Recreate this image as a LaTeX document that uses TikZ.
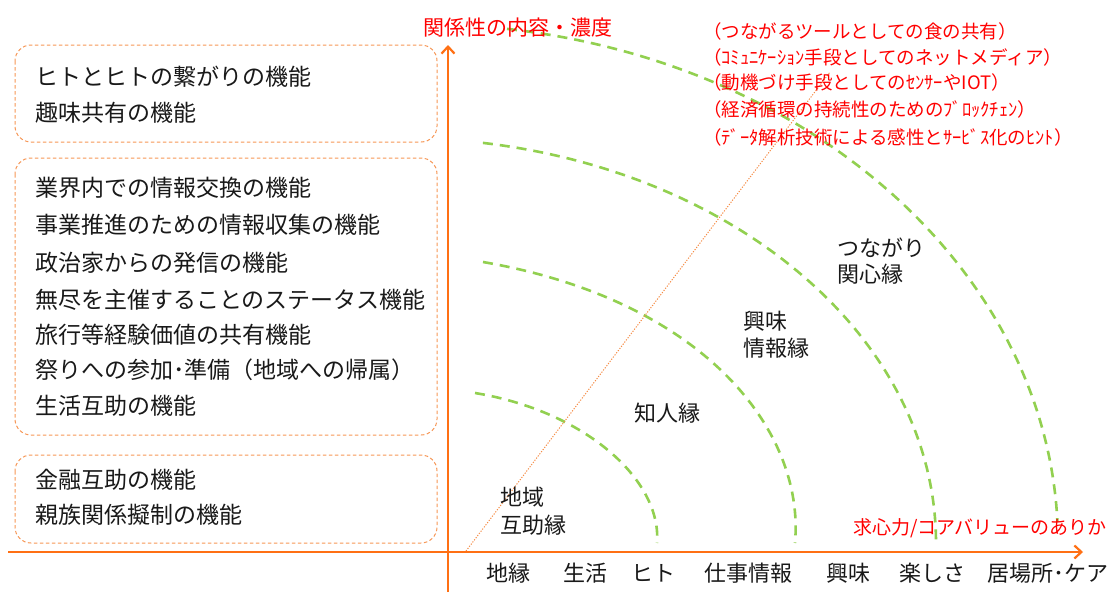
\documentclass[tikz,border=0pt]{standalone}
\usepackage{fontspec}
\setmainfont{Noto Sans CJK JP}
\usetikzlibrary{arrows.meta}
\definecolor{axisor}{RGB}{255,112,20}
\definecolor{boxor}{RGB}{246,150,85}
\definecolor{dotor}{RGB}{245,140,70}
\definecolor{arcgreen}{RGB}{146,208,80}
\definecolor{redtxt}{RGB}{255,0,0}
\definecolor{blktxt}{RGB}{25,25,25}
\begin{document}
\begin{tikzpicture}[x=1pt,y=-1pt,
  boxst/.style={draw=boxor, line width=1pt, dash pattern=on 3.5pt off 2.5pt, rounded corners=16pt},
  arcst/.style={draw=arcgreen, line width=2.6pt, dash pattern=on 10pt off 7pt},
  axisst/.style={draw=axisor, line width=2.2pt, -{Straight Barb[length=7pt,width=13pt]}},
  boxtxt/.style={anchor=west, inner sep=0pt, text=blktxt, font=\fontsize{23}{28}\selectfont, text height=20pt, text depth=2.8pt},
  redline/.style={anchor=west, inner sep=0pt, text=redtxt, font=\fontsize{18.5}{22}\selectfont, text height=16.3pt, text depth=2.2pt},
  lbl/.style={inner sep=0pt, text=blktxt, font=\fontsize{22}{27}\selectfont, align=left},
  axlbl/.style={inner sep=0pt, text=blktxt, font=\fontsize{22}{27}\selectfont, text height=19.4pt, text depth=2.6pt}
]
\useasboundingbox (0,0) rectangle (1114,592);

% boxes
\draw[boxst] (15,45) rectangle (437,142);
\draw[boxst] (15,158) rectangle (437,435);
\draw[boxst] (15,455) rectangle (437,543);

\node[boxtxt] (b1a) at (35,77) {ヒトとヒトの繋がりの機能};
\node[boxtxt] (b1b) at (35,113) {趣味共有の機能};

\node[boxtxt] (b2a) at (35,188) {業界内での情報交換の機能};
\node[boxtxt] (b2b) at (35,225) {事業推進のための情報収集の機能};
\node[boxtxt] (b2c) at (35,263) {政治家からの発信の機能};
\node[boxtxt] (b2d) at (35,300) {無尽を主催することのステータス機能};
\node[boxtxt] (b2e) at (35,335) {旅行等経験価値の共有機能};
\node[boxtxt] (b2f) at (35,370) {祭りへの参加･準備（地域への帰属）};
\node[boxtxt] (b2g) at (35,406) {生活互助の機能};

\node[boxtxt] (b3a) at (35,480) {金融互助の機能};
\node[boxtxt] (b3b) at (35,515) {親族関係擬制の機能};

% arcs
\draw[arcst] (475,393) .. controls (585,411) and (662,480) .. (657,543);
\draw[arcst] (483,262) .. controls (703,300) and (805,430) .. (795,543);
\draw[arcst] (400,543) ++(-81.1:536 and 405) arc[start angle=-81.1, end angle=0, x radius=536, y radius=405];
\draw[arcst] (420,543) ++(-82.16:638 and 519) arc[start angle=-82.16, end angle=-2.3, x radius=638, y radius=519];

% dotted diagonal
\coordinate (d0) at (466,551);
\coordinate (d1) at (830,72);
\draw[dotor, line width=1pt, dash pattern=on 1.2pt off 1.5pt] (d0) -- (d1);

% axes
\coordinate (x0) at (8,552);
\coordinate (x1) at (1083,552);
\coordinate (y0) at (448,592);
\coordinate (y1) at (448,45);
\draw[axisst] (x0) -- (x1);
\draw[axisst] (y0) -- (y1);

% axis titles
\node[inner sep=0pt, text=redtxt, font=\fontsize{21}{25}\selectfont] (ytitle) at (518,28) {関係性の内容・濃度};
\node[anchor=west, inner sep=0pt, text=redtxt, font=\fontsize{19}{23}\selectfont] (xtitle) at (853,528) {求心力/コアバリューのありか};

% red list
\node[redline] (r1) at (703,31) {（つながるツールとしての食の共有）};
\node[redline] (r2) at (703,57) {（ｺﾐｭﾆｹｰｼｮﾝ手段としてのネットメディア）};
\node[redline] (r3) at (703,82) {（動機づけ手段としてのｾﾝｻｰやIOT）};
\node[redline] (r4) at (703,109) {（経済循環の持続性のためのﾌﾞﾛｯｸﾁｪﾝ）};
\node[redline] (r5) at (703,137) {（ﾃﾞｰﾀ解析技術による感性とｻｰﾋﾞｽ化のﾋﾝﾄ）};

% zone labels
\node[lbl, anchor=west, font=\fontsize{22}{28}\selectfont] (z1) at (500,511) {地域\\互助縁};
\node[lbl] (z2) at (667,413) {知人縁};
\node[lbl, anchor=west] (z3) at (743,335) {興味\\情報縁};
\node[lbl, anchor=west, font=\fontsize{22}{26}\selectfont] (z4) at (837,261) {つながり\\関心縁};

% x-axis labels
\node[axlbl] (l1) at (508,573) {地縁};
\node[axlbl] (l2) at (585,573) {生活};
\node[axlbl] (l3) at (653,573) {ヒト};
\node[axlbl] (l4) at (748,573) {仕事情報};
\node[axlbl] (l5) at (848,573) {興味};
\node[axlbl] (l6) at (932,573) {楽しさ};
\node[axlbl] (l7) at (1048,573) {居場所･ケア};
\end{tikzpicture}
\end{document}
